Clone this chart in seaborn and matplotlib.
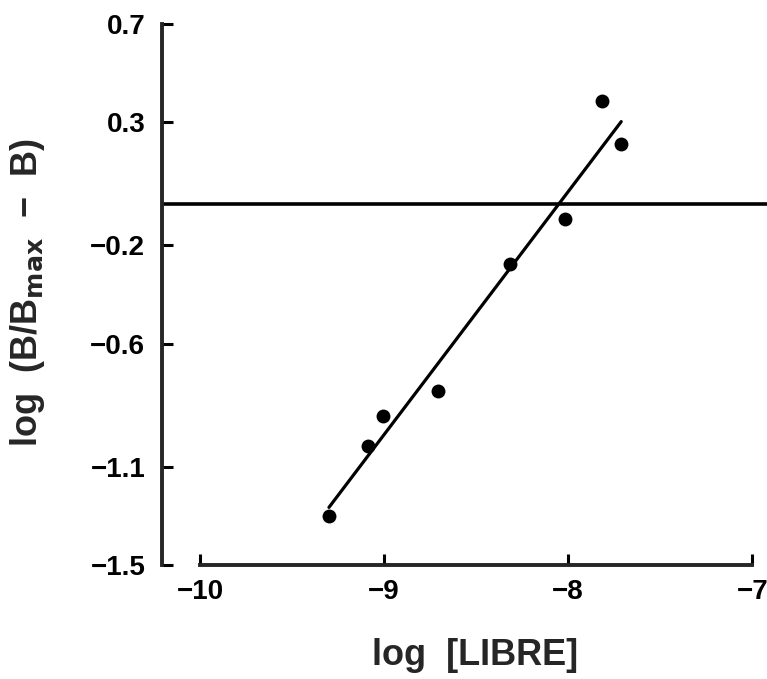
import matplotlib
matplotlib.use("Agg")
import matplotlib.pyplot as plt
import seaborn as sns
import pandas as pd

# data
log_libre = [-9.30, -9.09, -9.005, -8.71, -8.315, -8.016, -7.815, -7.712]
log_ratio = [-1.30, -1.016, -0.894, -0.793, -0.274, -0.091, 0.388, 0.213]
ref_level = -0.034
x_ticks = [-10, -9, -8, -7]
y_ticks = [0.7, 0.3, -0.2, -0.6, -1.1, -1.5]

df = pd.DataFrame({"x": log_libre, "y": log_ratio})

sns.set_style("ticks")
plt.rcParams['font.family'] = ['Liberation Sans', 'DejaVu Sans']
plt.rcParams['mathtext.fontset'] = 'dejavusans'

fig = plt.figure(figsize=(7.67, 6.79), dpi=100)
ax = fig.add_axes([162/767, 1 - 565/679, 605/767, (565 - 24)/679])

sns.regplot(data=df, x="x", y="y", ax=ax, ci=None, color="black",
            scatter_kws=dict(s=100, linewidths=0, color="black", alpha=1, zorder=3),
            line_kws=dict(lw=2.3, color="black"))
ax.axhline(ref_level, color="black", lw=2.6)

ax.set_xlim(-10.207, -6.92)
ax.set_ylim(-1.5, 0.7)
ax.set_xticks(x_ticks)
ax.set_yticks(y_ticks)
ax.set_xticklabels([f"\u2212{abs(v)}" for v in x_ticks])
ax.set_yticklabels([(f"\u2212{abs(v):.1f}" if v < 0 else f"{v:.1f}") for v in y_ticks])

for s in ["top", "right"]:
    ax.spines[s].set_visible(False)
ax.spines["left"].set_linewidth(2.8)
ax.spines["bottom"].set_linewidth(2.8)
ax.spines["bottom"].set_bounds(-10, -7)
ax.spines["left"].set_bounds(-1.5, 0.7)

ax.tick_params(axis="both", direction="in", length=8, width=2.2, colors="black",
               labelsize=20)
ax.tick_params(axis="y", pad=12)
ax.tick_params(axis="x", pad=10)
for lab in ax.get_xticklabels() + ax.get_yticklabels():
    lab.set_fontweight("bold")

ax.set_xlabel("log  [LIBRE]", fontsize=26, fontweight="bold")
ax.set_ylabel(r"log  (B/B$_{\mathbf{max}}$  " + "\u2212" + "  B)",
              fontsize=26, fontweight="bold")
ax.xaxis.set_label_coords(0.517, -0.135)
ax.yaxis.set_label_coords(-0.19, 0.503)

fig.savefig("out.png", dpi=100)
